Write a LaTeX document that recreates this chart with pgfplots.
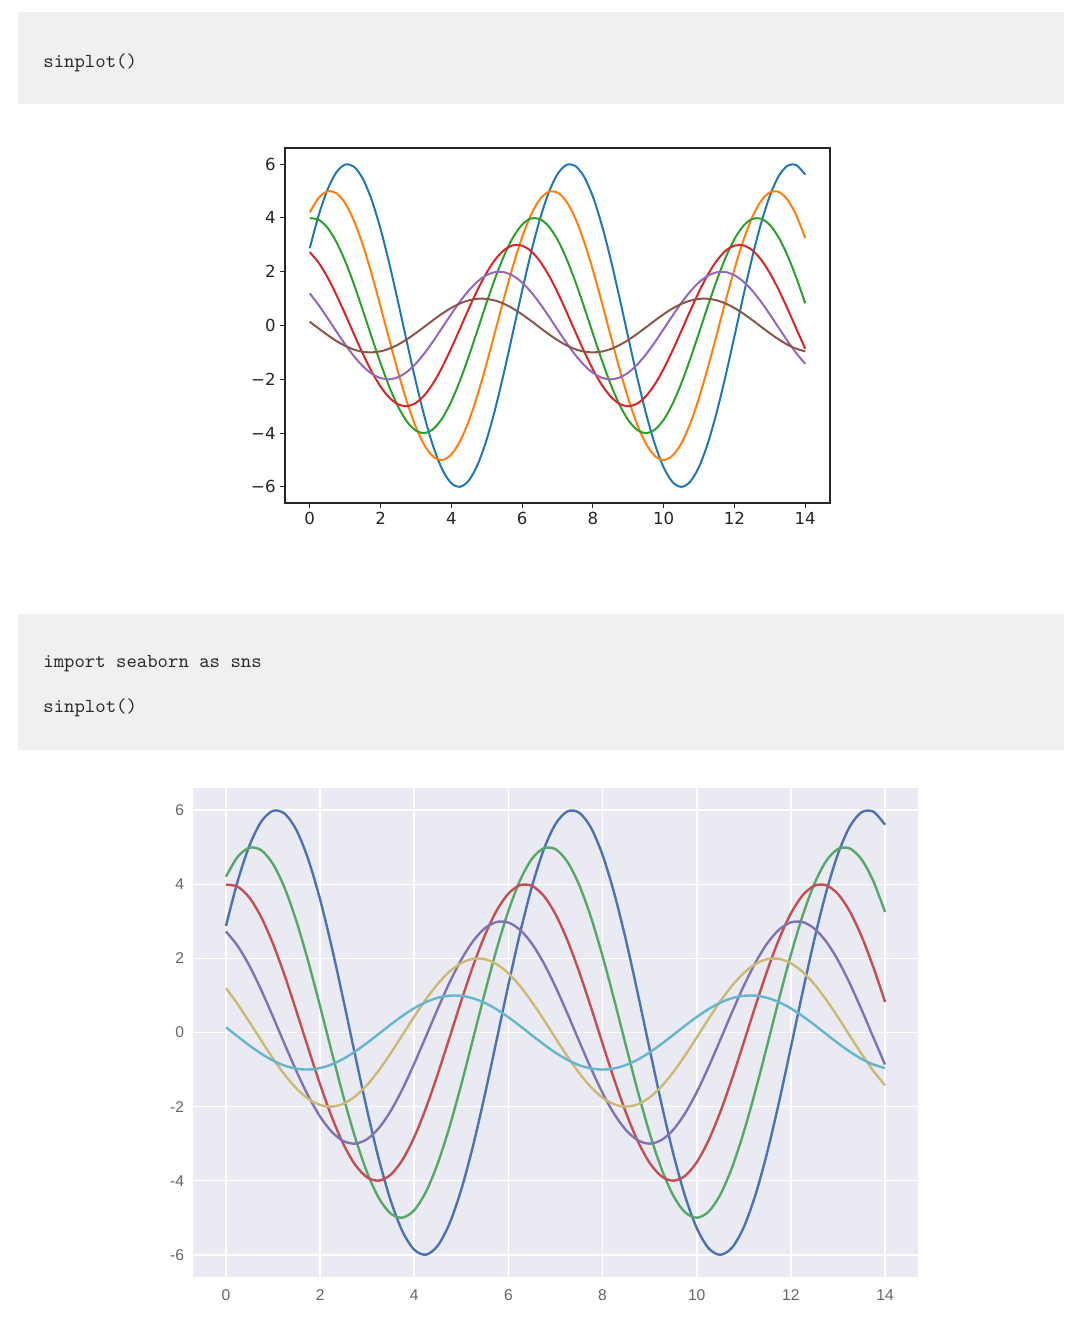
\documentclass[border=0pt]{standalone}
\usepackage{fontspec}
\usepackage{pgfplots}
\usepackage{pgfplotstable}
\pgfplotsset{compat=1.18}
\newfontfamily\dejavu{DejaVu Sans}
\newfontfamily\arial{Liberation Sans}

\definecolor{codebg}{HTML}{F0F0F0}
\definecolor{codetxt}{HTML}{2A2A2A}
% matplotlib default cycle
\definecolor{mplA}{HTML}{1F77B4}
\definecolor{mplB}{HTML}{FF7F0E}
\definecolor{mplC}{HTML}{2CA02C}
\definecolor{mplD}{HTML}{D62728}
\definecolor{mplE}{HTML}{9467BD}
\definecolor{mplF}{HTML}{8C564B}
% seaborn deep (old)
\definecolor{sbA}{HTML}{4C72B0}
\definecolor{sbB}{HTML}{55A868}
\definecolor{sbC}{HTML}{C44E52}
\definecolor{sbD}{HTML}{8172B2}
\definecolor{sbE}{HTML}{CCB974}
\definecolor{sbF}{HTML}{64B5CD}
\definecolor{sbbg}{HTML}{EAEAF2}
\definecolor{sbtick}{HTML}{666666}

% sinplot(): six sine curves, read at x = 0, 0.25, ..., 14
\pgfplotstableread{
x a b c d e f
0 2.876 4.207 3.990 2.728 1.197 0.141
0.25 4.090 4.745 3.936 2.334 0.763 -0.108
0.5 5.049 4.988 3.637 1.796 0.282 -0.351
0.75 5.694 4.920 3.112 1.145 -0.216 -0.572
1 5.985 4.547 2.394 0.423 -0.702 -0.757
1.25 5.904 3.891 1.527 -0.325 -1.143 -0.895
1.5 5.456 2.993 0.564 -1.052 -1.514 -0.978
1.75 4.669 1.909 -0.433 -1.715 -1.790 -0.999
2 3.591 0.706 -1.403 -2.270 -1.955 -0.959
2.25 2.290 -0.541 -2.286 -2.685 -1.999 -0.859
2.5 0.847 -1.754 -3.027 -2.933 -1.918 -0.706
2.75 -0.649 -2.858 -3.580 -2.998 -1.718 -0.508
3 -2.105 -3.784 -3.910 -2.877 -1.411 -0.279
3.25 -3.430 -4.475 -3.997 -2.577 -1.017 -0.033
3.5 -4.541 -4.888 -3.836 -2.117 -0.559 0.215
3.75 -5.370 -4.997 -3.436 -1.525 -0.066 0.450
4 -5.865 -4.795 -2.822 -0.838 0.430 0.657
4.25 -5.996 -4.295 -2.033 -0.100 0.900 0.823
4.5 -5.753 -3.528 -1.118 0.645 1.314 0.938
4.75 -5.153 -2.542 -0.133 1.350 1.646 0.995
5 -4.233 -1.397 0.860 1.971 1.876 0.989
5.25 -3.050 -0.166 1.800 2.469 1.989 0.923
5.5 -1.676 1.076 2.628 2.814 1.979 0.799
5.75 -0.199 2.250 3.292 2.984 1.845 0.625
6 1.291 3.285 3.752 2.968 1.597 0.412
6.25 2.700 4.116 3.978 2.768 1.249 0.174
6.5 3.942 4.690 3.958 2.396 0.824 -0.075
6.75 4.939 4.973 3.690 1.874 0.348 -0.320
7 5.628 4.947 3.194 1.236 -0.150 -0.544
7.25 5.968 4.613 2.499 0.522 -0.639 -0.735
7.5 5.936 3.993 1.648 -0.226 -1.088 -0.880
7.75 5.536 3.124 0.696 -0.959 -1.469 -0.970
8 4.791 2.061 -0.301 -1.632 -1.759 -1.000
8.25 3.748 0.870 -1.278 -2.204 -1.940 -0.968
8.5 2.473 -0.376 -2.176 -2.639 -2.000 -0.876
8.75 1.043 -1.598 -2.939 -2.910 -1.936 -0.729
9 -0.451 -2.720 -3.519 -3.000 -1.751 -0.537
9.25 -1.917 -3.674 -3.880 -2.903 -1.457 -0.311
9.5 -3.264 -4.399 -4.000 -2.627 -1.073 -0.066
9.75 -4.408 -4.850 -3.871 -2.186 -0.622 0.183
10 -5.278 -5.000 -3.502 -1.610 -0.133 0.420
10.25 -5.820 -4.839 -2.915 -0.933 0.365 0.632
10.5 -6.000 -4.378 -2.146 -0.199 0.840 0.804
10.75 -5.807 -3.644 -1.244 0.548 1.263 0.926
11 -5.253 -2.683 -0.265 1.261 1.608 0.991
11.25 -4.372 -1.556 0.730 1.895 1.852 0.994
11.5 -3.220 -0.332 1.681 2.411 1.981 0.935
11.75 -1.867 0.913 2.526 2.778 1.987 0.818
12 -0.398 2.101 3.215 2.972 1.870 0.650
12.25 1.096 3.158 3.704 2.981 1.636 0.442
12.5 2.521 4.019 3.962 2.805 1.301 0.207
12.75 3.790 4.630 3.974 2.454 0.884 -0.042
13 4.823 4.953 3.740 1.951 0.413 -0.288
13.25 5.556 4.968 3.272 1.326 -0.084 -0.516
13.5 5.944 4.675 2.601 0.620 -0.576 -0.712
13.75 5.962 4.090 1.768 -0.126 -1.032 -0.863
14 5.609 3.252 0.826 -0.864 -1.424 -0.961
}\sines

\begin{document}
\begin{tikzpicture}
  \path[use as bounding box, fill=white] (0,0) rectangle (540pt,-663.5pt);

  % code blocks
  \fill[codebg] (9pt,-6pt) rectangle (532pt,-52pt);
  \node[anchor=west, inner sep=0pt, text=codetxt, font=\ttfamily\fontsize{9.9}{11}\selectfont]
    at (21.5pt,-31.5pt) {sinplot()};
  \fill[codebg] (9pt,-307pt) rectangle (532pt,-375pt);
  \node[anchor=west, inner sep=0pt, text=codetxt, font=\ttfamily\fontsize{9.9}{11}\selectfont]
    at (21.5pt,-332pt) {import seaborn as sns};
  \node[anchor=west, inner sep=0pt, text=codetxt, font=\ttfamily\fontsize{9.9}{11}\selectfont]
    at (21.5pt,-354pt) {sinplot()};

  % plain matplotlib
  \begin{axis}[
      at={(142.5pt,-251.5pt)}, anchor=south west,
      scale only axis, width=272.5pt, height=177.5pt,
      xmin=-0.7, xmax=14.7, ymin=-6.6, ymax=6.6,
      xtick={0,2,4,6,8,10,12,14},
      xticklabels={0,2,4,6,8,10,12,14},
      ytick={-6,-4,-2,0,2,4,6},
      yticklabels={−6,−4,−2,0,2,4,6},
      tick align=outside, major tick length=2.5pt,
      tick style={black!85, line width=0.5pt},
      xtick pos=bottom, ytick pos=left,
      axis line style={black!85, line width=0.6pt},
      ticklabel style={font=\dejavu\fontsize{8.3}{10}\selectfont, text=black!85},
      every tick label/.append style={inner sep=2pt},
      every axis plot/.append style={line width=1pt, smooth},
    ]
    \addplot[mplA] table[x=x, y=a] {\sines};
    \addplot[mplB] table[x=x, y=b] {\sines};
    \addplot[mplC] table[x=x, y=c] {\sines};
    \addplot[mplD] table[x=x, y=d] {\sines};
    \addplot[mplE] table[x=x, y=e] {\sines};
    \addplot[mplF] table[x=x, y=f] {\sines};
  \end{axis}

  % seaborn darkgrid
  \begin{axis}[
      at={(96.5pt,-638.5pt)}, anchor=south west,
      scale only axis, width=362.5pt, height=244.5pt,
      xmin=-0.7, xmax=14.7, ymin=-6.6, ymax=6.6,
      xtick={0,2,4,6,8,10,12,14},
      xticklabels={0,2,4,6,8,10,12,14},
      ytick={-6,-4,-2,0,2,4,6},
      yticklabels={-6,-4,-2,0,2,4,6},
      axis background/.style={fill=sbbg},
      axis line style={draw=none},
      tick style={draw=none},
      grid=major,
      major grid style={white, line width=0.8pt},
      ticklabel style={font=\arial\fontsize{7.8}{9}\selectfont, text=sbtick},
      yticklabel style={xshift=-1pt},
      xticklabel style={yshift=-3pt},
      every axis plot/.append style={line width=1.2pt, smooth},
    ]
    \addplot[sbA] table[x=x, y=a] {\sines};
    \addplot[sbB] table[x=x, y=b] {\sines};
    \addplot[sbC] table[x=x, y=c] {\sines};
    \addplot[sbD] table[x=x, y=d] {\sines};
    \addplot[sbE] table[x=x, y=e] {\sines};
    \addplot[sbF] table[x=x, y=f] {\sines};
  \end{axis}
\end{tikzpicture}
\end{document}
